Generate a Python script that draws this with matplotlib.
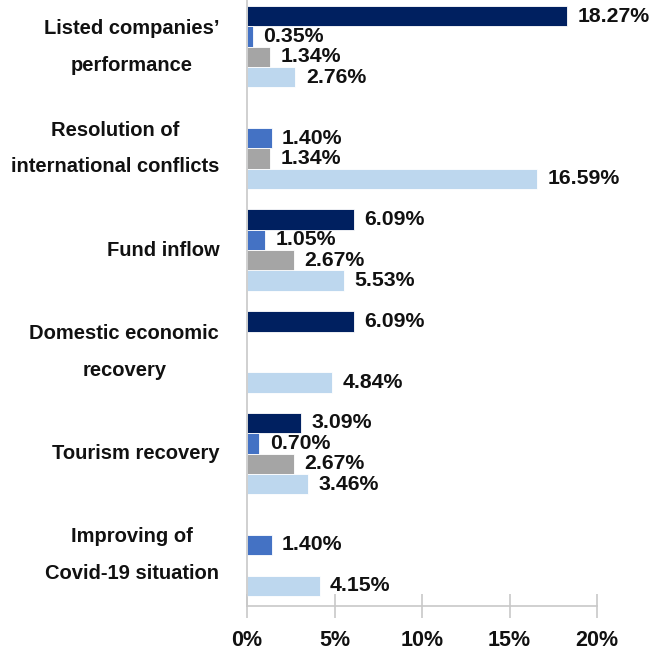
import numpy as np
import matplotlib.pyplot as plt

plt.rcParams['font.family'] = ['Liberation Sans', 'DejaVu Sans']
plt.rcParams['font.weight'] = 'bold'

categories = ["Listed companies’\nperformance",
              "Resolution of\ninternational conflicts",
              "Fund inflow",
              "Domestic economic\nrecovery",
              "Tourism recovery",
              "Improving of\nCovid-19 situation"]

nan = np.nan
series_1 = [18.27, nan, 6.09, 6.09, 3.09, nan]
series_2 = [0.35, 1.40, 1.05, nan, 0.70, 1.40]
series_3 = [1.34, 1.34, 2.67, nan, 2.67, nan]
series_4 = [2.76, 16.59, 5.53, 4.84, 3.46, 4.15]

colors = ['#002060', '#4472C4', '#A5A5A5', '#BDD7EE']
xticks = [0, 5, 10, 15, 20]

fig = plt.figure(figsize=(6.53, 6.51), dpi=100)
ax = fig.add_axes([247/653, 1 - 606/651, 350/653, 610/651])

y = np.arange(len(categories))
h = 0.2
for i, (vals, c) in enumerate(zip([series_1, series_2, series_3, series_4], colors)):
    pos = y - 0.3 + i * h
    v = np.array(vals, dtype=float)
    ax.barh(pos, np.nan_to_num(v), height=h, color=c, edgecolor='white', linewidth=0.6, zorder=2)
    for p, val in zip(pos, v):
        if not np.isnan(val):
            ax.text(val + 0.6, p, "%.2f%%" % val, va='center', ha='left',
                    fontsize=15.3, fontweight='bold', color='#111111')

ax.set_ylim(len(categories) - 0.5, -0.5)
ax.set_xlim(0, 20)
ax.set_yticks(y)
ax.set_yticklabels(categories, fontsize=14.5, fontweight='bold', ha='right', va='center',
                   multialignment='center', linespacing=2.2)
ax.set_xticks(xticks)
ax.set_xticklabels(["%d%%" % t for t in xticks], fontsize=15.5, fontweight='bold')

for s in ['top', 'right']:
    ax.spines[s].set_visible(False)
for s in ['left', 'bottom']:
    ax.spines[s].set_color('#c8c8c8')
    ax.spines[s].set_linewidth(1.2)

ax.tick_params(axis='y', length=0, pad=20, colors='#111111')
ax.tick_params(axis='x', direction='inout', length=17, width=1.2, color='#c8c8c8',
               pad=9, labelcolor='#111111')

fig.savefig("out.png", dpi=100)
